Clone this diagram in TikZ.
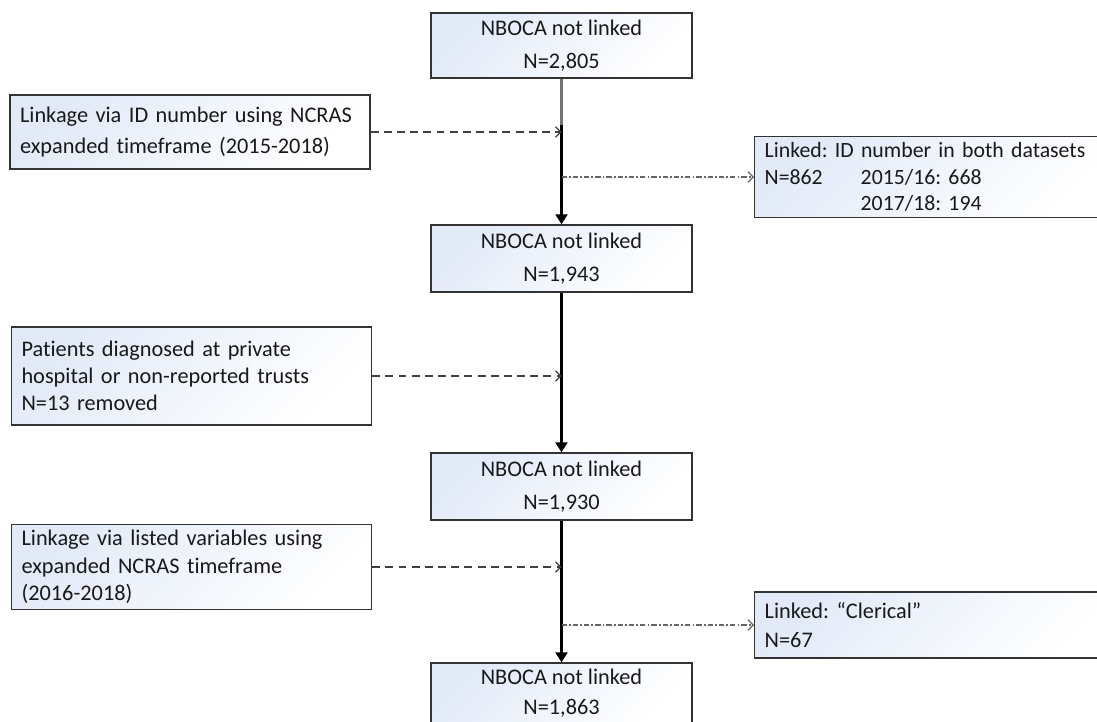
\documentclass[tikz,border=0pt]{standalone}
\usepackage{fontspec}
\setmainfont{Carlito}[Ligatures=NoCommon]
\usetikzlibrary{arrows.meta}
\definecolor{boxblue}{RGB}{226,234,248}
\frenchspacing
\begin{document}
\begin{tikzpicture}[x=0.02cm,y=-0.02cm,
  box/.style={draw=black!80,line width=0.8pt,left color=boxblue,right color=white,shading angle=45,
    font=\fontsize{12.7}{19}\selectfont,text=black!90},
  mainbox/.style={box,minimum width=5.22cm,minimum height=1.34cm,align=center},
  sidebox/.style={box,minimum width=7.2cm,text width=6.8cm,align=left,inner xsep=0.2cm},
  flow/.style={line width=1.7pt,-{Triangle[length=5.7pt,width=6.8pt]}},
  skip/.style={draw=black!75,line width=0.7pt,dash pattern=on 4.5pt off 3pt,-{Straight Barb[length=3pt,width=6pt]}},
  found/.style={draw=black!60,line width=0.7pt,dash pattern=on 3pt off 1.2pt on 1pt off 1.2pt,-{Straight Barb[length=3pt,width=6pt]}}]
\useasboundingbox (0,0) rectangle (1097,722);
\clip (0,0) rectangle (1097,722);

% main column
\node[mainbox,minimum height=1.3cm] (b1) at (561.5,45.5) {NBOCA not linked\\N=2,805};
\node[mainbox] (b2) at (561.5,258.5) {NBOCA not linked\\N=1,943};
\node[mainbox] (b3) at (561.5,486.5) {NBOCA not linked\\N=1,930};
\node[mainbox,minimum height=1.16cm,font=\fontsize{12.7}{17}\selectfont] (b4) at (561.5,693) {NBOCA not linked\\N=1,863};

% steps on the left
\node[sidebox,minimum height=1.48cm,font=\fontsize{12.7}{18}\selectfont] (sa) at (190,132)
  {Linkage via ID number using NCRAS\\expanded timeframe (2015-2018)};
\node[sidebox,minimum height=1.96cm,font=\fontsize{12.7}{15.3}\selectfont] (sb) at (191.5,376)
  {Patients diagnosed at private\\hospital or non-reported trusts\\N=13 removed};
\node[sidebox,minimum height=1.56cm,font=\fontsize{12.7}{15.5}\selectfont] (sc) at (191.5,567)
  {Linkage via listed variables using\\expanded NCRAS timeframe\\(2016-2018)};

% linked records on the right
\node[sidebox,anchor=west,minimum height=1.56cm,font=\fontsize{12.4}{15.3}\selectfont] (la) at (754,177)
  {Linked: ID number in both datasets\\\makebox[1.92cm][l]{N=862}2015/16: 668\\\hspace*{1.92cm}2017/18: 194};
\node[sidebox,anchor=west,minimum height=1.32cm,font=\fontsize{12.7}{17}\selectfont] (lb) at (754,625)
  {Linked: “Clerical”\\N=67};

\coordinate (m1) at (561.5,125);
\draw[black!55,line width=1.3pt] (b1.south) -- (m1);
\draw[flow] (m1) -- (b2.north);
\draw[flow] (b2.south) -- (b3.north);
\draw[flow] (b3.south) -- (b4.north);

\draw[skip] (sa.east) -- (sa.east -| b1.south);
\draw[skip] (sb.east) -- (sb.east -| b2.south);
\draw[skip] (sc.east) -- (sc.east -| b3.south);
\draw[found] (la.west -| b1.south) -- (la.west);
\draw[found] (lb.west -| b3.south) -- (lb.west);
\end{tikzpicture}
\end{document}
